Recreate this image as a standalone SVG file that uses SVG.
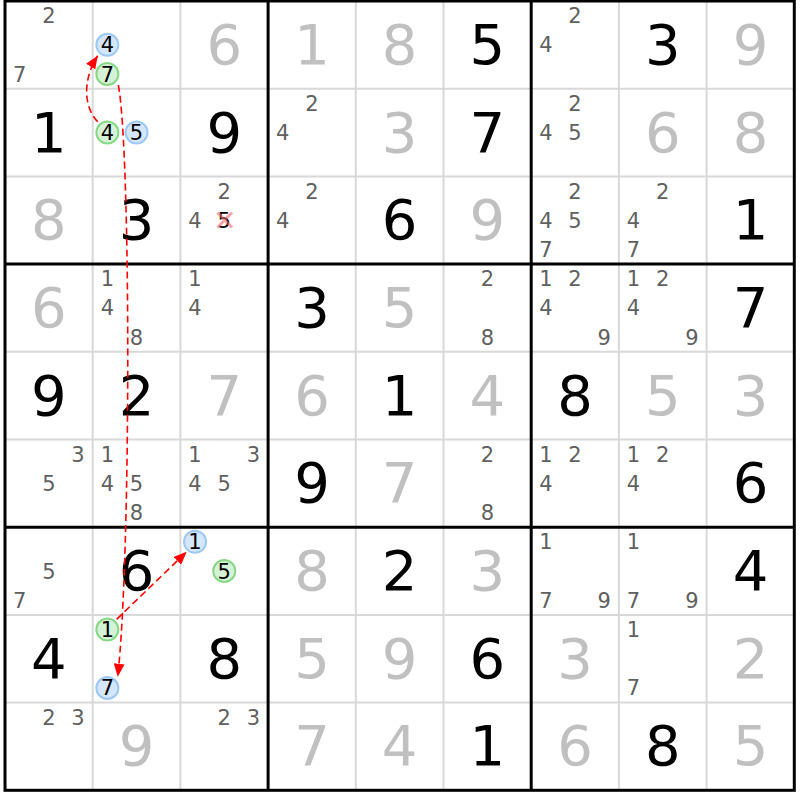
<svg xmlns="http://www.w3.org/2000/svg" width="800" height="800" viewBox="0 0 800 800">
<style>
text{font-family:"DejaVu Sans","Liberation Sans",sans-serif;text-anchor:middle}
.g{font-size:56px;fill:#000}
.s{font-size:56px;fill:#c0c0c0}
.c{font-size:21px;fill:#606060}
.k{font-size:21px;fill:#000}
.cb{fill:#d4e6fa;stroke:#9cc8f4;stroke-width:2}
.cg{fill:#d6f2d6;stroke:#86d886;stroke-width:2}
.thin{stroke:#d8d8d8;stroke-width:2}
.thick{stroke:#000;stroke-width:3}
.lnk{fill:none;stroke:#f00;stroke-width:1.6;stroke-dasharray:7 4}
</style>
<defs>
<marker id="ah" viewBox="0 0 12 10" refX="12" refY="5" markerWidth="13" markerHeight="11" markerUnits="userSpaceOnUse" orient="auto">
<path d="M0,0 L12,5 L0,10 z" fill="#f00"/>
</marker>
</defs>
<rect width="800" height="800" fill="#fff"/>
<g id="grid">
<g class="thin">
<line x1="92.7" y1="1" x2="92.7" y2="790.3"/><line x1="180.4" y1="1" x2="180.4" y2="790.3"/>
<line x1="355.8" y1="1" x2="355.8" y2="790.3"/><line x1="443.5" y1="1" x2="443.5" y2="790.3"/>
<line x1="618.9" y1="1" x2="618.9" y2="790.3"/><line x1="706.6" y1="1" x2="706.6" y2="790.3"/>
<line x1="5" y1="88.7" x2="794.3" y2="88.7"/><line x1="5" y1="176.4" x2="794.3" y2="176.4"/>
<line x1="5" y1="351.8" x2="794.3" y2="351.8"/><line x1="5" y1="439.5" x2="794.3" y2="439.5"/>
<line x1="5" y1="614.9" x2="794.3" y2="614.9"/><line x1="5" y1="702.6" x2="794.3" y2="702.6"/>
</g>
<g class="thick">
<line x1="268.1" y1="1" x2="268.1" y2="790.3"/><line x1="531.2" y1="1" x2="531.2" y2="790.3"/>
<line x1="5" y1="264.1" x2="794.3" y2="264.1"/><line x1="5" y1="527.2" x2="794.3" y2="527.2"/>
<rect x="5" y="1" width="789.3" height="789.3" fill="none"/>
</g>
</g>
<!-- Row 0 -->
<g id="r0c0"><text class="c" x="48.85" y="23.15">2</text><text class="c" x="19.65" y="81.55">7</text></g>
<g id="r0c1"><circle class="cb" cx="107.35" cy="44.85" r="11"/><text class="k" x="107.35" y="52.35">4</text><circle class="cg" cx="107.35" cy="74.05" r="11"/><text class="k" x="107.35" y="81.55">7</text></g>
<g id="r0c2"><text class="s" x="224.25" y="63.85">6</text></g>
<g id="r0c3"><text class="s" x="311.95" y="63.85">1</text></g>
<g id="r0c4"><text class="s" x="399.65" y="63.85">8</text></g>
<g id="r0c5"><text class="g" x="487.35" y="63.85">5</text></g>
<g id="r0c6"><text class="c" x="575.05" y="23.15">2</text><text class="c" x="545.85" y="52.35">4</text></g>
<g id="r0c7"><text class="g" x="662.75" y="63.85">3</text></g>
<g id="r0c8"><text class="s" x="750.45" y="63.85">9</text></g>
<!-- Row 1 -->
<g id="r1c0"><text class="g" x="48.85" y="151.55">1</text></g>
<g id="r1c1"><circle class="cg" cx="107.35" cy="132.55" r="11"/><text class="k" x="107.35" y="140.05">4</text><circle class="cb" cx="136.55" cy="132.55" r="11"/><text class="k" x="136.55" y="140.05">5</text></g>
<g id="r1c2"><text class="g" x="224.25" y="151.55">9</text></g>
<g id="r1c3"><text class="c" x="311.95" y="110.85">2</text><text class="c" x="282.75" y="140.05">4</text></g>
<g id="r1c4"><text class="s" x="399.65" y="151.55">3</text></g>
<g id="r1c5"><text class="g" x="487.35" y="151.55">7</text></g>
<g id="r1c6"><text class="c" x="575.05" y="110.85">2</text><text class="c" x="545.85" y="140.05">4</text><text class="c" x="575.05" y="140.05">5</text></g>
<g id="r1c7"><text class="s" x="662.75" y="151.55">6</text></g>
<g id="r1c8"><text class="s" x="750.45" y="151.55">8</text></g>
<!-- Row 2 -->
<g id="r2c0"><text class="s" x="48.85" y="239.25">8</text></g>
<g id="r2c1"><text class="g" x="136.55" y="239.25">3</text></g>
<g id="r2c2"><text class="c" x="224.25" y="198.55">2</text><text class="c" x="195.05" y="227.75">4</text><text class="k" x="224.25" y="227.75">5</text><path d="M217.5 212.5 L232 227.5 M232 212.5 L217.5 227.5" stroke="#f06a6a" stroke-opacity="0.6" stroke-width="3" fill="none"/></g>
<g id="r2c3"><text class="c" x="311.95" y="198.55">2</text><text class="c" x="282.75" y="227.75">4</text></g>
<g id="r2c4"><text class="g" x="399.65" y="239.25">6</text></g>
<g id="r2c5"><text class="s" x="487.35" y="239.25">9</text></g>
<g id="r2c6"><text class="c" x="575.05" y="198.55">2</text><text class="c" x="545.85" y="227.75">4</text><text class="c" x="575.05" y="227.75">5</text><text class="c" x="545.85" y="256.95">7</text></g>
<g id="r2c7"><text class="c" x="662.75" y="198.55">2</text><text class="c" x="633.55" y="227.75">4</text><text class="c" x="633.55" y="256.95">7</text></g>
<g id="r2c8"><text class="g" x="750.45" y="239.25">1</text></g>
<!-- Row 3 -->
<g id="r3c0"><text class="s" x="48.85" y="326.95">6</text></g>
<g id="r3c1"><text class="c" x="107.35" y="286.25">1</text><text class="c" x="107.35" y="315.45">4</text><text class="c" x="136.55" y="344.65">8</text></g>
<g id="r3c2"><text class="c" x="195.05" y="286.25">1</text><text class="c" x="195.05" y="315.45">4</text></g>
<g id="r3c3"><text class="g" x="311.95" y="326.95">3</text></g>
<g id="r3c4"><text class="s" x="399.65" y="326.95">5</text></g>
<g id="r3c5"><text class="c" x="487.35" y="286.25">2</text><text class="c" x="487.35" y="344.65">8</text></g>
<g id="r3c6"><text class="c" x="545.85" y="286.25">1</text><text class="c" x="575.05" y="286.25">2</text><text class="c" x="545.85" y="315.45">4</text><text class="c" x="604.25" y="344.65">9</text></g>
<g id="r3c7"><text class="c" x="633.55" y="286.25">1</text><text class="c" x="662.75" y="286.25">2</text><text class="c" x="633.55" y="315.45">4</text><text class="c" x="691.95" y="344.65">9</text></g>
<g id="r3c8"><text class="g" x="750.45" y="326.95">7</text></g>
<!-- Row 4 -->
<g id="r4c0"><text class="g" x="48.85" y="414.65">9</text></g>
<g id="r4c1"><text class="g" x="136.55" y="414.65">2</text></g>
<g id="r4c2"><text class="s" x="224.25" y="414.65">7</text></g>
<g id="r4c3"><text class="s" x="311.95" y="414.65">6</text></g>
<g id="r4c4"><text class="g" x="399.65" y="414.65">1</text></g>
<g id="r4c5"><text class="s" x="487.35" y="414.65">4</text></g>
<g id="r4c6"><text class="g" x="575.05" y="414.65">8</text></g>
<g id="r4c7"><text class="s" x="662.75" y="414.65">5</text></g>
<g id="r4c8"><text class="s" x="750.45" y="414.65">3</text></g>
<!-- Row 5 -->
<g id="r5c0"><text class="c" x="78.05" y="461.65">3</text><text class="c" x="48.85" y="490.85">5</text></g>
<g id="r5c1"><text class="c" x="107.35" y="461.65">1</text><text class="c" x="107.35" y="490.85">4</text><text class="c" x="136.55" y="490.85">5</text><text class="c" x="136.55" y="520.05">8</text></g>
<g id="r5c2"><text class="c" x="195.05" y="461.65">1</text><text class="c" x="253.45" y="461.65">3</text><text class="c" x="195.05" y="490.85">4</text><text class="c" x="224.25" y="490.85">5</text></g>
<g id="r5c3"><text class="g" x="311.95" y="502.35">9</text></g>
<g id="r5c4"><text class="s" x="399.65" y="502.35">7</text></g>
<g id="r5c5"><text class="c" x="487.35" y="461.65">2</text><text class="c" x="487.35" y="520.05">8</text></g>
<g id="r5c6"><text class="c" x="545.85" y="461.65">1</text><text class="c" x="575.05" y="461.65">2</text><text class="c" x="545.85" y="490.85">4</text></g>
<g id="r5c7"><text class="c" x="633.55" y="461.65">1</text><text class="c" x="662.75" y="461.65">2</text><text class="c" x="633.55" y="490.85">4</text></g>
<g id="r5c8"><text class="g" x="750.45" y="502.35">6</text></g>
<!-- Row 6 -->
<g id="r6c0"><text class="c" x="48.85" y="578.55">5</text><text class="c" x="19.65" y="607.75">7</text></g>
<g id="r6c1"><text class="g" x="136.55" y="590.05">6</text></g>
<g id="r6c2"><circle class="cb" cx="195.05" cy="541.85" r="11"/><text class="k" x="195.05" y="549.35">1</text><circle class="cg" cx="224.25" cy="571.05" r="11"/><text class="k" x="224.25" y="578.55">5</text></g>
<g id="r6c3"><text class="s" x="311.95" y="590.05">8</text></g>
<g id="r6c4"><text class="g" x="399.65" y="590.05">2</text></g>
<g id="r6c5"><text class="s" x="487.35" y="590.05">3</text></g>
<g id="r6c6"><text class="c" x="545.85" y="549.35">1</text><text class="c" x="545.85" y="607.75">7</text><text class="c" x="604.25" y="607.75">9</text></g>
<g id="r6c7"><text class="c" x="633.55" y="549.35">1</text><text class="c" x="633.55" y="607.75">7</text><text class="c" x="691.95" y="607.75">9</text></g>
<g id="r6c8"><text class="g" x="750.45" y="590.05">4</text></g>
<!-- Row 7 -->
<g id="r7c0"><text class="g" x="48.85" y="677.75">4</text></g>
<g id="r7c1"><circle class="cg" cx="107.35" cy="629.55" r="11"/><text class="k" x="107.35" y="637.05">1</text><circle class="cb" cx="107.35" cy="687.95" r="11"/><text class="k" x="107.35" y="695.45">7</text></g>
<g id="r7c2"><text class="g" x="224.25" y="677.75">8</text></g>
<g id="r7c3"><text class="s" x="311.95" y="677.75">5</text></g>
<g id="r7c4"><text class="s" x="399.65" y="677.75">9</text></g>
<g id="r7c5"><text class="g" x="487.35" y="677.75">6</text></g>
<g id="r7c6"><text class="s" x="575.05" y="677.75">3</text></g>
<g id="r7c7"><text class="c" x="633.55" y="637.05">1</text><text class="c" x="633.55" y="695.45">7</text></g>
<g id="r7c8"><text class="s" x="750.45" y="677.75">2</text></g>
<!-- Row 8 -->
<g id="r8c0"><text class="c" x="48.85" y="724.75">2</text><text class="c" x="78.05" y="724.75">3</text></g>
<g id="r8c1"><text class="s" x="136.55" y="765.45">9</text></g>
<g id="r8c2"><text class="c" x="224.25" y="724.75">2</text><text class="c" x="253.45" y="724.75">3</text></g>
<g id="r8c3"><text class="s" x="311.95" y="765.45">7</text></g>
<g id="r8c4"><text class="s" x="399.65" y="765.45">4</text></g>
<g id="r8c5"><text class="g" x="487.35" y="765.45">1</text></g>
<g id="r8c6"><text class="s" x="575.05" y="765.45">6</text></g>
<g id="r8c7"><text class="g" x="662.75" y="765.45">8</text></g>
<g id="r8c8"><text class="s" x="750.45" y="765.45">5</text></g>
<g id="connectors">
<path class="lnk" d="M97.7 121.7 C84 108 82 80 97.7 55.7" marker-end="url(#ah)"/>
<path class="lnk" d="M118.3 85 C131 150 131 560 117.7 676.7" marker-end="url(#ah)"/>
<path class="lnk" d="M116.7 619.3 L186.7 551.7" marker-end="url(#ah)"/>
</g>
</svg>
